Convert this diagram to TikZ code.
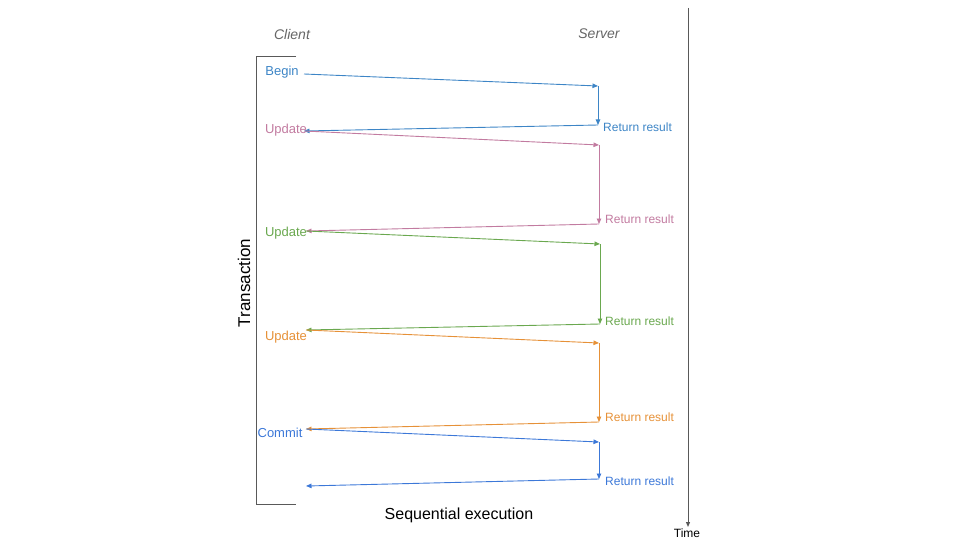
\documentclass[tikz,border=0pt]{standalone}
\usepackage{fontspec}
\setmainfont{Liberation Sans}
\usetikzlibrary{arrows.meta}
\definecolor{cblue}{HTML}{3D85C6}
\definecolor{cblue2}{HTML}{3C78D8}
\definecolor{cpink}{HTML}{C27BA0}
\definecolor{cgreen}{HTML}{6AA84F}
\definecolor{corange}{HTML}{E69138}
\definecolor{cgray}{HTML}{595959}
\definecolor{ctext}{HTML}{666666}
\tikzset{
  msg/.style={line width=0.9pt,-{Triangle[length=5.5pt,width=4.5pt]}},
  lbl/.style={font=\fontsize{12}{14}\selectfont,inner sep=0pt},
  clbl/.style={font=\fontsize{13}{15}\selectfont,inner sep=0pt},
  hdr/.style={font=\fontsize{14}{16}\selectfont\itshape,text=ctext,inner sep=0pt},
}
\begin{document}
\begin{tikzpicture}[x=1pt,y=-1pt]
\useasboundingbox (0,0) rectangle (960,540);
% headers
\node[hdr] (client) at (292,34) {Client};
\node[hdr] (server) at (599,34) {Server};
% bracket
\coordinate (bt) at (296,57);
\coordinate (bb) at (296,504);
\draw[cgray,line width=1pt] (bt) -- (256,57) -- (256,504) -- (bb);
\node[font=\fontsize{17}{19}\selectfont,rotate=90,inner sep=0pt] (trans) at (244,283) {Transaction};
\node[font=\fontsize{16}{18}\selectfont,inner sep=0pt] (seq) at (459,515) {Sequential execution};
% time axis
\coordinate (t0) at (688,8);
\coordinate (t1) at (688,527);
\draw[cgray,line width=1pt,-{Triangle[length=5pt,width=4pt]}] (t0) -- (t1);
\node[lbl] (time) at (687,533) {Time};
% client labels
\node[clbl,text=cblue] (begin) at (282,72) {Begin};
\node[clbl,text=cpink] (up1) at (286,130) {Update};
\node[clbl,text=cgreen] (up2) at (286,233) {Update};
\node[clbl,text=corange] (up3) at (286,337) {Update};
\node[clbl,text=cblue2] (commit) at (280,433) {Commit};
% coordinates
\coordinate (c0) at (304,74);
\coordinate (s0a) at (598,86); \coordinate (s0b) at (598,125);
\coordinate (c1) at (304,131);
\coordinate (s1a) at (599,145); \coordinate (s1b) at (599,224);
\coordinate (c2) at (306,231);
\coordinate (s2a) at (600,244); \coordinate (s2b) at (600,324);
\coordinate (c3) at (306,330);
\coordinate (s3a) at (599,343); \coordinate (s3b) at (599,422);
\coordinate (c4) at (306,429);
\coordinate (s4a) at (599,442); \coordinate (s4b) at (599,479);
\coordinate (c5) at (306,486);
% blue (begin)
\draw[msg,cblue] (c0) -- (s0a);
\draw[msg,cblue] (s0a) -- (s0b);
\draw[msg,cblue] (s0b) -- (c1);
\node[lbl,text=cblue,anchor=west] (r0) at (603,127) {Return result};
% pink
\draw[msg,cpink] (c1) -- (s1a);
\draw[msg,cpink] (s1a) -- (s1b);
\draw[msg,cpink] (s1b) -- (c2);
\node[lbl,text=cpink,anchor=west] (r1) at (605,219) {Return result};
% green
\draw[msg,cgreen] (c2) -- (s2a);
\draw[msg,cgreen] (s2a) -- (s2b);
\draw[msg,cgreen] (s2b) -- (c3);
\node[lbl,text=cgreen,anchor=west] (r2) at (605,321) {Return result};
% orange
\draw[msg,corange] (c3) -- (s3a);
\draw[msg,corange] (s3a) -- (s3b);
\draw[msg,corange] (s3b) -- (c4);
\node[lbl,text=corange,anchor=west] (r3) at (605,417) {Return result};
% blue (commit)
\draw[msg,cblue2] (c4) -- (s4a);
\draw[msg,cblue2] (s4a) -- (s4b);
\draw[msg,cblue2] (s4b) -- (c5);
\node[lbl,text=cblue2,anchor=west] (r4) at (605,481) {Return result};
\end{tikzpicture}
\end{document}
